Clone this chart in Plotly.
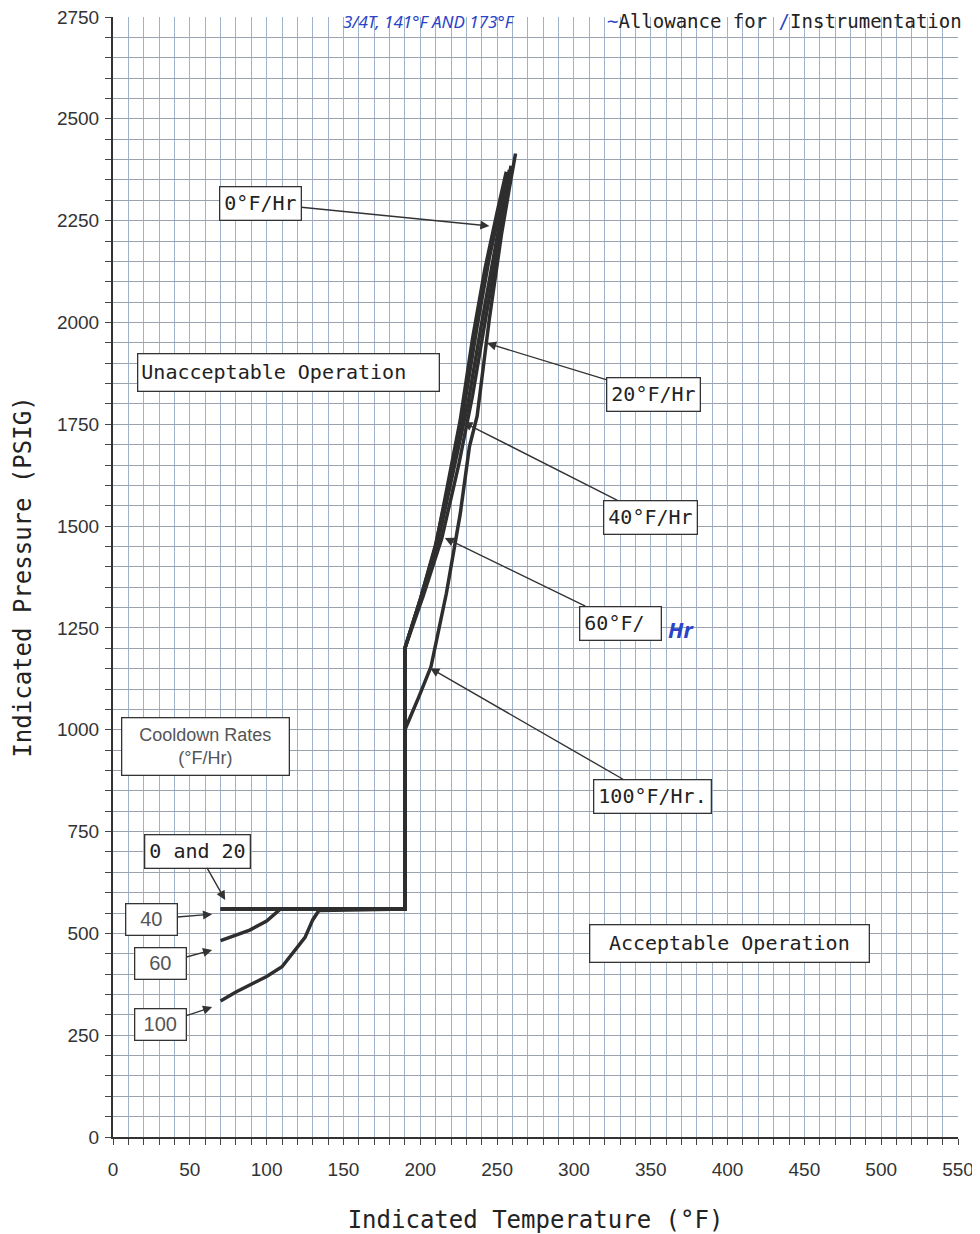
import plotly.graph_objects as go

# ---------------- data ----------------
x_ticks = [0, 50, 100, 150, 200, 250, 300, 350, 400, 450, 500, 550]
y_ticks = [0, 250, 500, 750, 1000, 1250, 1500, 1750, 2000, 2250, 2500, 2750]

rate0_T = [70, 190, 190, 200, 210, 218, 226, 234, 242, 250, 256]
rate0_P = [560, 560, 1200, 1320, 1450, 1600, 1760, 1960, 2130, 2270, 2370]

rate20_T = [70, 190, 190, 200, 210, 219, 228, 237, 245, 252, 257]
rate20_P = [560, 560, 1200, 1320, 1455, 1610, 1780, 1990, 2160, 2280, 2365]

rate40_T = [70, 190, 190, 201, 212, 222, 231, 240, 248, 254, 258]
rate40_P = [560, 560, 1200, 1330, 1470, 1640, 1800, 2000, 2170, 2290, 2375]

rate60_T = [70, 80, 89, 100, 109, 190, 190, 202, 214, 225, 234, 243, 251, 256, 259]
rate60_P = [482, 495, 508, 530, 560, 560, 1200, 1330, 1470, 1650, 1820, 2020, 2200, 2300, 2385]

rate100_T = [70, 80, 90, 100, 110, 117, 125, 130, 134, 190, 190, 199, 207, 217, 226, 232, 237, 245, 253, 258, 262]
rate100_P = [334, 356, 375, 394, 418, 451, 490, 533, 556, 560, 1000, 1080, 1155, 1335, 1530, 1695, 1770, 2010, 2220, 2330, 2415]

curves = [
    ("0°F/Hr", rate0_T, rate0_P),
    ("20°F/Hr", rate20_T, rate20_P),
    ("40°F/Hr", rate40_T, rate40_P),
    ("60°F/Hr", rate60_T, rate60_P),
    ("100°F/Hr", rate100_T, rate100_P),
]

# labels with arrows: text, tail (box centre) T,P ; head T,P
arrow_labels = [
    ("0°F/Hr", 96, 2293, 245, 2237),
    ("20°F/Hr", 352, 1824, 243.5, 1949),
    ("40°F/Hr", 350, 1522, 228, 1755),
    ("60°F/ ", 330, 1262, 216, 1471),
    ("100°F/Hr.", 351, 837, 206.5, 1151),
    ("0 and 20", 55, 702, 73, 582),
]
small_labels = [
    ("40", 25, 535, 64.5, 547),
    ("60", 31, 425, 64.5, 459),
    ("100", 31, 277, 64.5, 319),
]

LINE = "#2e2e2e"
MONO = "DejaVu Sans Mono"
SANS = "Liberation Sans"
BLUE = "#2a44c8"

fig = go.Figure()
for name, T, P in curves:
    fig.add_trace(go.Scatter(x=T, y=P, mode="lines", name=name,
                             line=dict(color=LINE, width=3.5),
                             showlegend=False, hoverinfo="skip"))

ann = []
for txt, ax, ay, x, y in arrow_labels:
    ann.append(dict(x=x, y=y, ax=ax, ay=ay, xref="x", yref="y", axref="x", ayref="y",
                    text=txt, showarrow=True, arrowhead=2, arrowsize=1.3, arrowwidth=1.4,
                    arrowcolor="#333", font=dict(family=MONO, size=20, color="#222"),
                    bgcolor="white", bordercolor="#333", borderwidth=1.3, borderpad=4))
for txt, ax, ay, x, y in small_labels:
    ann.append(dict(x=x, y=y, ax=ax, ay=ay, xref="x", yref="y", axref="x", ayref="y",
                    text=txt, showarrow=True, arrowhead=2, arrowsize=1.3, arrowwidth=1.4,
                    arrowcolor="#333", font=dict(family=SANS, size=20, color="#555"),
                    bgcolor="white", bordercolor="#333", borderwidth=1.3, borderpad=4,
                    width=42))

ann.append(dict(x=114.5, y=1876, xref="x", yref="y", text="Unacceptable Operation",
                showarrow=False, align="left", width=294, height=30,
                font=dict(family=MONO, size=20, color="#222"),
                bgcolor="white", bordercolor="#333", borderwidth=1.3, borderpad=3))
ann.append(dict(x=401.5, y=474, xref="x", yref="y", text="Acceptable Operation",
                showarrow=False, width=272, height=30,
                font=dict(family=MONO, size=20, color="#222"),
                bgcolor="white", bordercolor="#333", borderwidth=1.3, borderpad=3))
ann.append(dict(x=60.5, y=960, xref="x", yref="y", text="Cooldown Rates<br>(°F/Hr)",
                showarrow=False, width=160, height=50,
                font=dict(family=SANS, size=18, color="#555"),
                bgcolor="white", bordercolor="#333", borderwidth=1.3, borderpad=3))
ann.append(dict(x=370, y=1247, xref="x", yref="y", text="<b><i>Hr</i></b>",
                showarrow=False, font=dict(family="Noto Sans", size=22, color=BLUE)))

# header text
ann.append(dict(x=206, y=1, xref="x", yref="paper", yanchor="top", yshift=9,
                text="<i>3/4T, 141°F AND 173°F</i>", showarrow=False,
                font=dict(family="Noto Sans", size=17, color=BLUE)))
ann.append(dict(x=437, y=1, xref="x", yref="paper", yanchor="top", yshift=9,
                text="<span style='color:%s'>~</span>Allowance for <span style='color:%s'>/</span>Instrumentation" % (BLUE, BLUE),
                showarrow=False, font=dict(family=MONO, size=19, color="#222")))

fig.update_layout(
    width=972, height=1226,
    margin=dict(l=105, r=22, t=9, b=97, autoexpand=False),
    paper_bgcolor="white", plot_bgcolor="white",
    annotations=ann,
    xaxis=dict(range=[0, 550], tickvals=x_ticks, ticktext=[str(v) for v in x_ticks],
               automargin=False, ticklabeloverflow="allow",
               showgrid=True, gridcolor="#9fb3ca", gridwidth=1,
               minor=dict(dtick=10, showgrid=True, gridcolor="#9fb3ca", gridwidth=1,
                          ticks="outside", ticklen=6, tickcolor="#444"),
               ticks="outside", ticklen=6, tickcolor="#444",
               ticklabelstandoff=8,
               showline=True, linecolor="#333", linewidth=2, mirror=False,
               zeroline=False,
               tickfont=dict(family=SANS, size=19, color="#333"),
               title=dict(text="Indicated Temperature (°F)", standoff=38,
                          font=dict(family=MONO, size=24, color="#222"))),
    yaxis=dict(range=[0, 2750], tickvals=y_ticks, ticktext=[str(v) for v in y_ticks],
               automargin=False, ticklabeloverflow="allow",
               showgrid=True, gridcolor="#9aa3ad", gridwidth=1,
               minor=dict(dtick=50, showgrid=True, gridcolor="#9aa3ad", gridwidth=1,
                          ticks="outside", ticklen=6, tickcolor="#444"),
               ticks="outside", ticklen=6, tickcolor="#444",
               ticklabelstandoff=2,
               showline=True, linecolor="#333", linewidth=2,
               zeroline=False,
               tickfont=dict(family=SANS, size=19, color="#333"),
               title=dict(text="Indicated Pressure (PSIG)", standoff=19,
                          font=dict(family=MONO, size=24, color="#222"))),
)

fig.write_html("out.html")
